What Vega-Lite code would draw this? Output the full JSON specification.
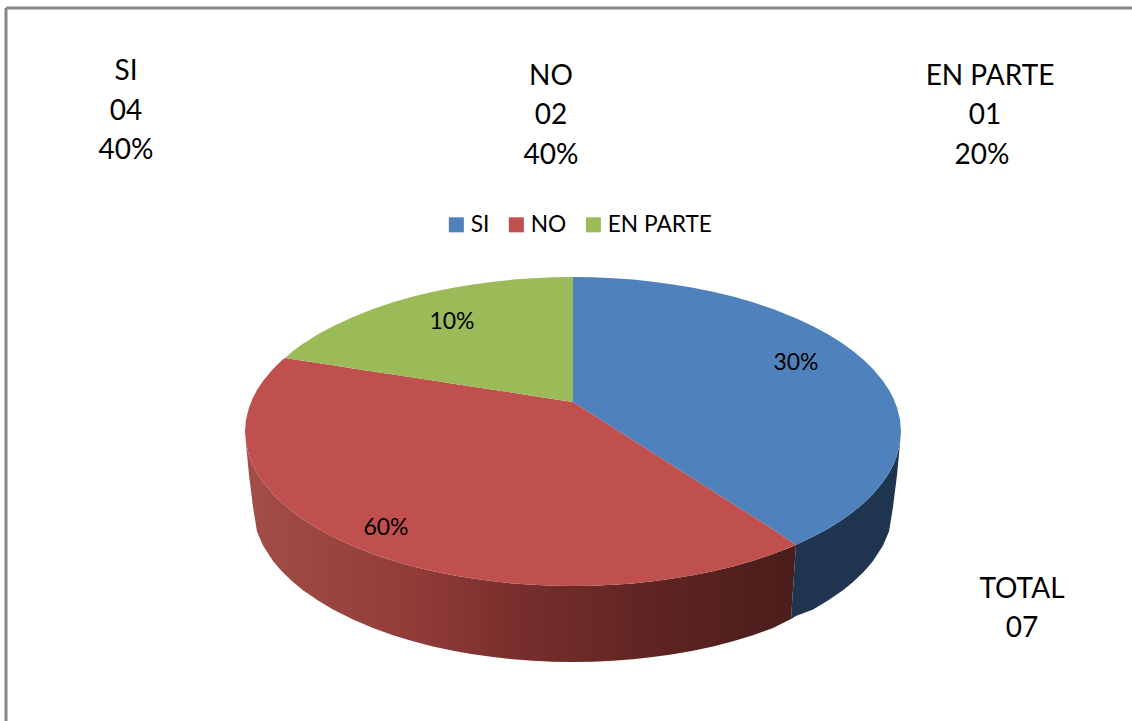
{
"$schema":"https://vega.github.io/schema/vega-lite/v6.json",
"width":1132,"height":721,"padding":0,
"autosize":{"type":"fit","contains":"padding"},
"background":"white",
"config":{"view":{"stroke":null},"text":{"font":"Lato"}},
"datasets":{
"top":[
{"s":"SI","x":573,"y":277,"y2":402},{"s":"SI","x":593,"y":277.3,"y2":414.7},{"s":"SI","x":613,"y":278.2,"y2":427.5},{"s":"SI","x":633,"y":279.6,"y2":440.2},{"s":"SI","x":653,"y":281.7,"y2":452.9},{"s":"SI","x":673,"y":284.4,"y2":465.7},{"s":"SI","x":693,"y":287.7,"y2":478.4},{"s":"SI","x":713,"y":291.8,"y2":491.2},{"s":"SI","x":733,"y":296.6,"y2":503.9},{"s":"SI","x":753,"y":302.3,"y2":516.6},{"s":"SI","x":773,"y":309,"y2":529.4},{"s":"SI","x":796,"y":318.2,"y2":544.7},{"s":"SI","x":813,"y":326.2,"y2":536.8},{"s":"SI","x":828,"y":334.3,"y2":528.7},{"s":"SI","x":843,"y":343.8,"y2":519.2},{"s":"SI","x":853,"y":351,"y2":512},{"s":"SI","x":863,"y":359.3,"y2":503.7},{"s":"SI","x":868,"y":364,"y2":499},{"s":"SI","x":873,"y":369,"y2":494},{"s":"SI","x":883,"y":381,"y2":482},{"s":"SI","x":889,"y":390.1,"y2":472.9},{"s":"SI","x":893,"y":397.6,"y2":465.4},{"s":"SI","x":897,"y":407.5,"y2":455.5},{"s":"SI","x":900,"y":419.5,"y2":443.5},{"s":"SI","x":901,"y":431.5,"y2":431.5},
{"s":"NO","x":245,"y":431.5,"y2":431.5},{"s":"NO","x":246,"y":419.5,"y2":443.5},{"s":"NO","x":249,"y":407.5,"y2":455.5},{"s":"NO","x":253,"y":397.6,"y2":465.4},{"s":"NO","x":257,"y":390.1,"y2":472.9},{"s":"NO","x":263,"y":381,"y2":482},{"s":"NO","x":273,"y":369,"y2":494},{"s":"NO","x":278,"y":364,"y2":499},{"s":"NO","x":283,"y":359.3,"y2":503.7},{"s":"NO","x":285,"y":358,"y2":505.4},{"s":"NO","x":293,"y":359.2,"y2":512},{"s":"NO","x":303,"y":360.8,"y2":519.2},{"s":"NO","x":318,"y":363,"y2":528.7},{"s":"NO","x":333,"y":365.3,"y2":536.8},{"s":"NO","x":353,"y":368.4,"y2":546.1},{"s":"NO","x":373,"y":371.4,"y2":554},{"s":"NO","x":393,"y":374.5,"y2":560.7},{"s":"NO","x":413,"y":377.6,"y2":566.4},{"s":"NO","x":433,"y":380.6,"y2":571.2},{"s":"NO","x":453,"y":383.7,"y2":575.3},{"s":"NO","x":473,"y":386.7,"y2":578.6},{"s":"NO","x":493,"y":389.8,"y2":581.3},{"s":"NO","x":513,"y":392.8,"y2":583.4},{"s":"NO","x":533,"y":395.9,"y2":584.8},{"s":"NO","x":553,"y":398.9,"y2":585.7},{"s":"NO","x":573,"y":402,"y2":586},{"s":"NO","x":593,"y":414.7,"y2":585.7},{"s":"NO","x":613,"y":427.5,"y2":584.8},{"s":"NO","x":633,"y":440.2,"y2":583.4},{"s":"NO","x":653,"y":452.9,"y2":581.3},{"s":"NO","x":673,"y":465.7,"y2":578.6},{"s":"NO","x":693,"y":478.4,"y2":575.3},{"s":"NO","x":713,"y":491.2,"y2":571.2},{"s":"NO","x":733,"y":503.9,"y2":566.4},{"s":"NO","x":753,"y":516.6,"y2":560.7},{"s":"NO","x":773,"y":529.4,"y2":554},{"s":"NO","x":796,"y":544.7,"y2":544.7},
{"s":"EN PARTE","x":285,"y":358,"y2":358},{"s":"EN PARTE","x":293,"y":351,"y2":359.2},{"s":"EN PARTE","x":303,"y":343.8,"y2":360.8},{"s":"EN PARTE","x":318,"y":334.3,"y2":363},{"s":"EN PARTE","x":333,"y":326.2,"y2":365.3},{"s":"EN PARTE","x":353,"y":316.9,"y2":368.4},{"s":"EN PARTE","x":373,"y":309,"y2":371.4},{"s":"EN PARTE","x":393,"y":302.3,"y2":374.5},{"s":"EN PARTE","x":413,"y":296.6,"y2":377.6},{"s":"EN PARTE","x":433,"y":291.8,"y2":380.6},{"s":"EN PARTE","x":453,"y":287.7,"y2":383.7},{"s":"EN PARTE","x":473,"y":284.4,"y2":386.7},{"s":"EN PARTE","x":493,"y":281.7,"y2":389.8},{"s":"EN PARTE","x":513,"y":279.6,"y2":392.8},{"s":"EN PARTE","x":533,"y":278.2,"y2":395.9},{"s":"EN PARTE","x":553,"y":277.3,"y2":398.9},{"s":"EN PARTE","x":573,"y":277,"y2":402}
],
"sideRed":[
{"x":246,"y":443.5,"y2":443.5},{"x":249,"y":455.5,"y2":475},{"x":253,"y":465.4,"y2":507},{"x":257,"y":472.9,"y2":531.4},{"x":263,"y":482,"y2":545.4},{"x":273,"y":494,"y2":560.9},{"x":278,"y":499,"y2":567},{"x":283,"y":503.7,"y2":572.5},{"x":293,"y":512,"y2":582},{"x":303,"y":519.2,"y2":590.2},{"x":318,"y":528.7,"y2":600.6},{"x":333,"y":536.8,"y2":609.5},{"x":353,"y":546.1,"y2":619.6},{"x":373,"y":554,"y2":628},{"x":393,"y":560.7,"y2":635.2},{"x":413,"y":566.4,"y2":641.2},{"x":433,"y":571.2,"y2":646.4},{"x":453,"y":575.3,"y2":650.7},{"x":473,"y":578.6,"y2":654.2},{"x":493,"y":581.3,"y2":657.1},{"x":513,"y":583.4,"y2":659.25},{"x":533,"y":584.8,"y2":660.8},{"x":553,"y":585.7,"y2":661.7},{"x":573,"y":586,"y2":662},{"x":593,"y":585.7,"y2":661.7},{"x":613,"y":584.8,"y2":660.8},{"x":633,"y":583.4,"y2":659.25},{"x":653,"y":581.3,"y2":657.1},{"x":673,"y":578.6,"y2":654.2},{"x":693,"y":575.3,"y2":650.7},{"x":713,"y":571.2,"y2":646.4},{"x":733,"y":566.4,"y2":641.2},{"x":753,"y":560.7,"y2":635.2},{"x":773,"y":554,"y2":628},{"x":791,"y":546.9,"y2":619},{"x":796,"y":544.7,"y2":544.7}
],
"sideBlue":[
{"x":791,"y":619,"y2":619},{"x":796,"y":544.7,"y2":616},{"x":813,"y":536.8,"y2":609.5},{"x":828,"y":528.7,"y2":600.6},{"x":843,"y":519.2,"y2":590.2},{"x":853,"y":512,"y2":582},{"x":863,"y":503.7,"y2":572.5},{"x":868,"y":499,"y2":567},{"x":873,"y":494,"y2":560.9},{"x":883,"y":482,"y2":545.4},{"x":889,"y":472.9,"y2":531.4},{"x":893,"y":465.4,"y2":507},{"x":897,"y":455.5,"y2":475},{"x":900,"y":443.5,"y2":443.5}
],
"big":[
{"t":"SI","x":126,"y":72},{"t":"04","x":126,"y":112},{"t":"40%","x":126,"y":151},
{"t":"NO","x":551,"y":77},{"t":"02","x":551,"y":116},{"t":"40%","x":551,"y":156},
{"t":"EN PARTE","x":990,"y":77},{"t":"01","x":985,"y":116},{"t":"20%","x":982,"y":156},
{"t":"TOTAL","x":1022,"y":590},{"t":"07","x":1022,"y":629}
],
"small":[
{"t":"30%","x":796,"y":363},{"t":"10%","x":452,"y":322},{"t":"60%","x":386,"y":528}
],
"frame":[
{"x":6,"y":8,"x2":1132,"y2":8},{"x":6,"y":8,"x2":6,"y2":721}
]
},
"encoding":{
"x":{"field":"x","type":"quantitative","axis":null,"scale":{"domain":[0,1132],"nice":false,"zero":false}},
"y":{"field":"y","type":"quantitative","axis":null,"stack":null,"scale":{"domain":[721,0],"nice":false,"zero":false}}
},
"layer":[
{"data":{"name":"frame"},"mark":{"type":"rule","stroke":"#868686","strokeWidth":3,"clip":true},
 "encoding":{"x2":{"field":"x2"},"y2":{"field":"y2"}}},
{"data":{"name":"sideRed"},
 "mark":{"type":"area","fill":{"gradient":"linear","x1":0,"y1":0,"x2":1,"y2":0,"stops":[{"offset":0,"color":"#A44E49"},{"offset":0.3,"color":"#923C38"},{"offset":0.5,"color":"#772E2C"},{"offset":0.75,"color":"#5E2422"},{"offset":1,"color":"#4A1D1B"}]}},
 "encoding":{"y2":{"field":"y2"}}},
{"data":{"name":"sideBlue"},"mark":{"type":"area","fill":"#1F344F"},"encoding":{"y2":{"field":"y2"}}},
{"data":{"name":"top"},"mark":{"type":"area"},
 "encoding":{"y2":{"field":"y2"},
  "color":{"field":"s","type":"nominal","scale":{"domain":["SI","NO","EN PARTE"],"range":["#4F81BD","#C0504D","#9BBB59"]},
   "legend":{"title":null,"orient":"none","legendX":445,"legendY":213,"direction":"horizontal","columns":3,"symbolType":"square","symbolSize":225,"symbolStrokeWidth":0,"symbolOpacity":1,"labelFont":"Lato","labelFontSize":22.7,"labelColor":"#000000","labelOffset":3,"columnPadding":15,"padding":0}}}},
{"data":{"name":"big"},"mark":{"type":"text","fontSize":28,"font":"Lato","baseline":"middle","align":"center","color":"#000000"},"encoding":{"text":{"field":"t"}}},
{"data":{"name":"small"},"mark":{"type":"text","fontSize":23,"font":"Lato","baseline":"middle","align":"center","color":"#000000"},"encoding":{"text":{"field":"t"}}}
]
}
